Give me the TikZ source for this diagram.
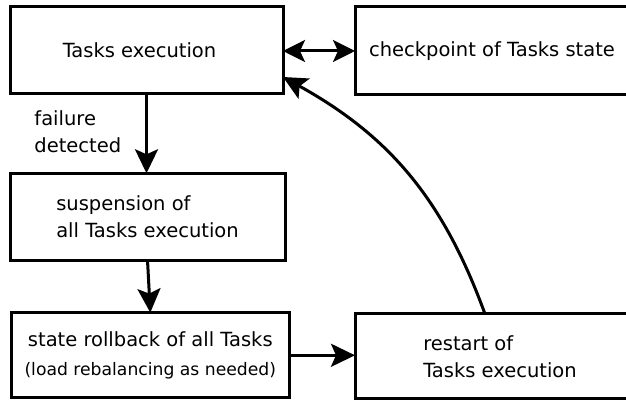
\documentclass[tikz,border=0pt]{standalone}
\usepackage{fontspec}
\setmainfont{DejaVu Sans}
\usetikzlibrary{arrows.meta}
\tikzset{
  box/.style={draw, line width=1.5pt, inner sep=0pt, outer sep=0pt},
  conn/.style={line width=1.5pt, -{Stealth[length=12pt, width=11.5pt, inset=2.5pt]}},
  biconn/.style={line width=1.5pt, {Stealth[length=11pt, width=11pt, inset=2.5pt]}-{Stealth[length=11pt, width=11pt, inset=2.5pt]}},
}
\begin{document}
\begin{tikzpicture}[x=0.5pt, y=-0.5pt, font=\fontsize{9.75}{13.5}\selectfont]
\clip (0,0) rectangle (626,400);
\node[box, minimum width=136.5pt, minimum height=43.3pt] (A) at (146.5,50) {Tasks execution\hspace*{7pt}};
\node[box, minimum width=137pt, minimum height=44pt] (B) at (492,51) {checkpoint of Tasks state};
\node[box, minimum width=137.5pt, minimum height=43.4pt, align=left] (C) at (147.5,216.7) {suspension of\\all Tasks execution};
\node[box, minimum width=139pt, minimum height=42.7pt, align=center] (D) at (150.3,355.3) {state rollback of all Tasks\\[1pt]{\fontsize{8.6}{10}\selectfont (load rebalancing as needed)}};
\node[box, minimum width=145pt, minimum height=42.5pt, align=left] (E) at (500,356.5) {restart of\\Tasks execution};
\node[inner sep=0pt, anchor=north west, align=left] (fd) at (34,110.3) {failure\\detected};
\draw[conn] (A.south) -- (A.south |- C.north);
\draw[conn] (C.south) -- (D.north);
\draw[conn] (D.east) -- (D.east -| E.west);
\draw[biconn] (A.east |- B.west) -- (B.west);
\draw[conn] ([xshift=-7.5pt]E.north) to[out=110, in=-29] ([yshift=-13.5pt]A.east);
\end{tikzpicture}
\end{document}
